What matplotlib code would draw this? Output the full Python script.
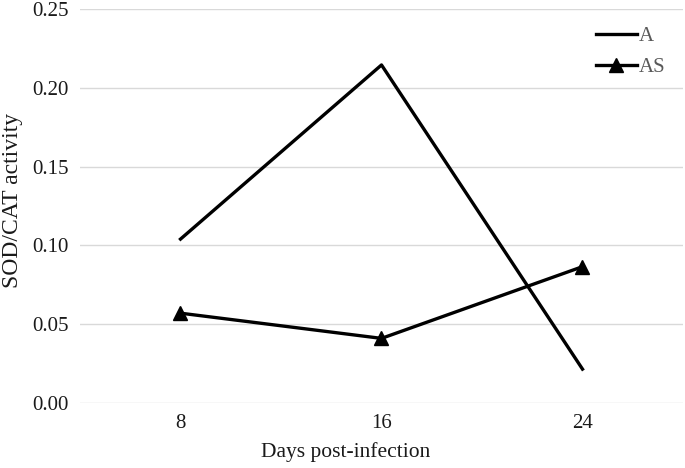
import matplotlib
matplotlib.use("Agg")
import matplotlib.pyplot as plt

days = ["8", "16", "24"]
series_A = [0.104, 0.2145, 0.0215]
series_AS = [0.057, 0.0410, 0.0865]
yticks = [0.00, 0.05, 0.10, 0.15, 0.20, 0.25]

plt.rcParams['font.family'] = ['Liberation Serif', 'DejaVu Serif']

fig = plt.figure(figsize=(6.85, 4.68), dpi=100)
ax = fig.add_axes([80/685, 1 - 403/468, 603/685, 394/468])

x = list(range(len(days)))
ax.plot(x, series_A, color='black', lw=2.4, label='A')
ax.plot(x, series_AS, color='black', lw=2.4, marker='^', markersize=10, label='AS')

ax.set_xlim(-0.5, 2.5)
ax.set_ylim(0, 0.25)
ax.set_yticks(yticks)
ax.set_yticklabels([f"{v:.2f}" for v in yticks])
ax.set_xticks(x)
ax.set_xticklabels(days)
ax.tick_params(length=0, labelsize=15, pad=8, labelcolor='#1a1a1a')
ax.tick_params(axis='y', pad=8)
for s in ax.spines.values():
    s.set_visible(False)
ax.grid(axis='y', color='#d9d9d9', lw=1)
ax.set_axisbelow(True)
fig.text(346/685, 1 - 452/468, "Days post-infection", fontsize=15.5,
         ha='center', va='center', color='#1a1a1a')
fig.text(13/685, 1 - 200/468, "SOD/CAT activity", fontsize=17, rotation=90,
         ha='center', va='center', color='#1a1a1a')

leg = ax.legend(loc='upper right', bbox_to_anchor=(1.0, 1.0), frameon=False,
                fontsize=15, handlelength=1.95, handletextpad=0.1, labelspacing=0.55,
                borderaxespad=0.45)
for t in leg.get_texts():
    t.set_color('#595959')

fig.savefig("out.png", dpi=100)
